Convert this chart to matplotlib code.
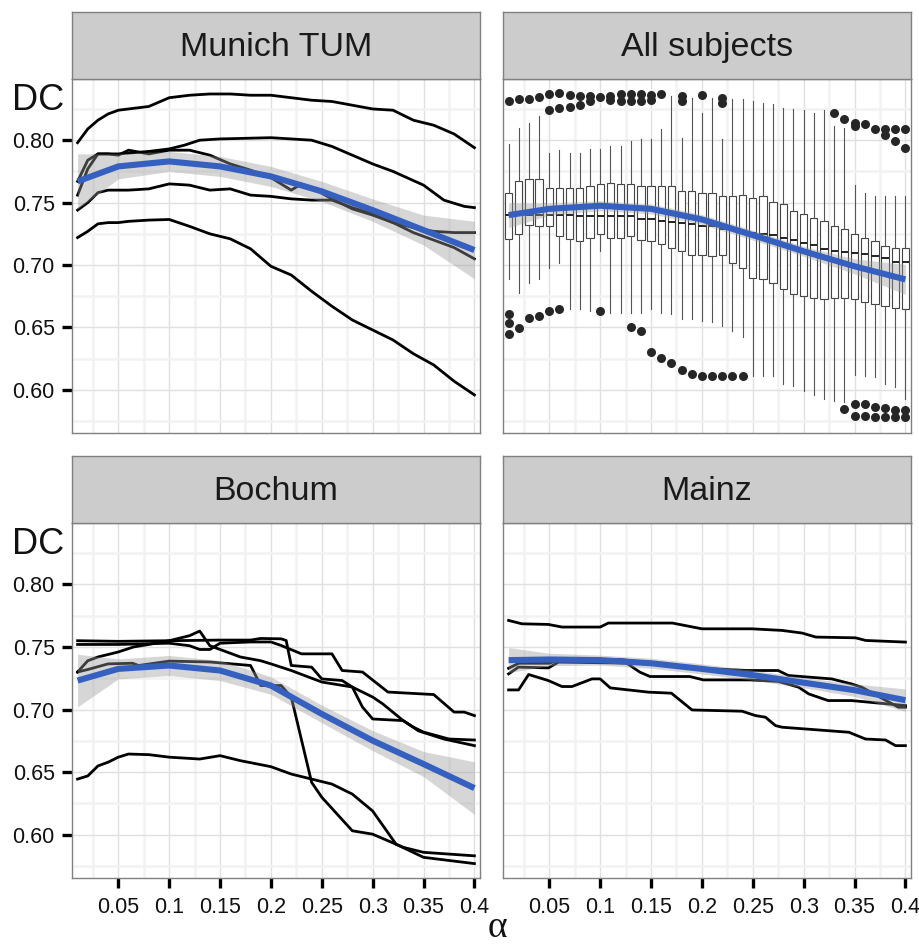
import matplotlib
matplotlib.use('Agg')
import matplotlib.pyplot as plt

plt.rcParams['font.family'] = ['Liberation Sans', 'DejaVu Sans']

# ---------------- data ----------------
x_ticks = [0.05, 0.10, 0.15, 0.20, 0.25, 0.30, 0.35, 0.40]
x_ticklabels = ['0.05', '0.1', '0.15', '0.2', '0.25', '0.3', '0.35', '0.4']
x_minor = [0.025, 0.075, 0.125, 0.175, 0.225, 0.275, 0.325, 0.375]
y_ticks = [0.60, 0.65, 0.70, 0.75, 0.80]
y_minor = [0.575, 0.625, 0.675, 0.725, 0.775, 0.825]

# Munich TUM, one line per subject
mun_x = [0.01, 0.02, 0.03, 0.04, 0.05, 0.06, 0.08, 0.10, 0.12, 0.14, 0.16, 0.18,
         0.20, 0.22, 0.24, 0.26, 0.28, 0.30, 0.32, 0.34, 0.36, 0.38, 0.40]
mun_a = [0.798, 0.809, 0.816, 0.821, 0.824, 0.825, 0.827, 0.834, 0.836, 0.837, 0.837, 0.836,
         0.836, 0.834, 0.832, 0.831, 0.828, 0.825, 0.824, 0.816, 0.812, 0.805, 0.794]
mun_c = [0.744, 0.750, 0.758, 0.760, 0.760, 0.760, 0.761, 0.765, 0.764, 0.760, 0.761, 0.756,
         0.755, 0.753, 0.752, 0.752, 0.746, 0.741, 0.734, 0.726, 0.720, 0.714, 0.705]
mun_d = [0.722, 0.727, 0.733, 0.734, 0.734, 0.735, 0.736, 0.7365, 0.731, 0.725, 0.721, 0.713,
         0.699, 0.692, 0.679, 0.667, 0.656, 0.648, 0.640, 0.629, 0.620, 0.607, 0.596]
mun_b_x = [0.01, 0.02, 0.03, 0.05, 0.08, 0.10, 0.115, 0.13, 0.15, 0.20, 0.24, 0.26, 0.28,
           0.30, 0.32, 0.35, 0.37, 0.39, 0.40]
mun_b = [0.767, 0.784, 0.789, 0.789, 0.791, 0.793, 0.796, 0.800, 0.801, 0.802, 0.800, 0.795, 0.788,
         0.781, 0.775, 0.764, 0.752, 0.747, 0.746]
mun_e_x = [0.01, 0.02, 0.03, 0.04, 0.05, 0.06, 0.08, 0.10, 0.12, 0.14, 0.16, 0.18, 0.20,
           0.22, 0.23, 0.24, 0.26, 0.28, 0.30, 0.32, 0.34, 0.36, 0.38, 0.40]
mun_e = [0.756, 0.777, 0.789, 0.789, 0.788, 0.792, 0.789, 0.792, 0.792, 0.788, 0.781, 0.776, 0.770,
         0.760, 0.765, 0.762, 0.753, 0.745, 0.740, 0.734, 0.730, 0.727, 0.726, 0.726]

# Bochum
boc_a_x = [0.01, 0.05, 0.10, 0.15, 0.18, 0.19, 0.21, 0.215, 0.22, 0.24, 0.25, 0.27, 0.28,
           0.29, 0.30, 0.33, 0.34, 0.35, 0.375, 0.40]
boc_a = [0.755, 0.7545, 0.755, 0.7555, 0.7555, 0.7568, 0.7565, 0.7552, 0.7352, 0.7339, 0.7245,
         0.7232, 0.718, 0.702, 0.6925, 0.6912, 0.686, 0.682, 0.6765, 0.6757]
boc_b_x = [0.01, 0.05, 0.10, 0.12, 0.13, 0.14, 0.15, 0.18, 0.20, 0.21, 0.23, 0.26, 0.27,
           0.29, 0.315, 0.36, 0.38, 0.39, 0.40]
boc_b = [0.752, 0.752, 0.753, 0.751, 0.748, 0.748, 0.753, 0.754, 0.754, 0.7512, 0.7445, 0.7445,
         0.7312, 0.730, 0.714, 0.712, 0.698, 0.698, 0.6952]
boc_c_x = [0.01, 0.02, 0.03, 0.05, 0.065, 0.08, 0.10, 0.12, 0.13, 0.14, 0.15, 0.17, 0.19,
           0.20, 0.22, 0.25, 0.28, 0.29, 0.30, 0.31, 0.33, 0.345, 0.37, 0.40]
boc_c = [0.730, 0.739, 0.742, 0.746, 0.750, 0.752, 0.755, 0.759, 0.7627, 0.751, 0.748, 0.742,
         0.739, 0.7365, 0.7312, 0.722, 0.718, 0.714, 0.710, 0.7045, 0.6912, 0.683, 0.6765, 0.6712]
boc_d_x = [0.01, 0.02, 0.04, 0.064, 0.07, 0.10, 0.14, 0.18, 0.19, 0.21, 0.22, 0.24, 0.25,
           0.28, 0.30, 0.33, 0.35, 0.40]
boc_d = [0.730, 0.732, 0.7365, 0.737, 0.7352, 0.7387, 0.738, 0.7352, 0.7192, 0.7192, 0.710,
         0.6419, 0.630, 0.6032, 0.6005, 0.590, 0.586, 0.5832]
boc_e_x = [0.01, 0.02, 0.03, 0.04, 0.05, 0.06, 0.08, 0.10, 0.13, 0.15, 0.17, 0.20, 0.22,
           0.24, 0.26, 0.28, 0.30, 0.323, 0.35, 0.40]
boc_e = [0.6445, 0.647, 0.655, 0.658, 0.662, 0.6645, 0.664, 0.662, 0.6605, 0.6632, 0.6592,
         0.6544, 0.6485, 0.6445, 0.6405, 0.6325, 0.619, 0.5925, 0.582, 0.577]

# Mainz
mai_a_x = [0.01, 0.023, 0.049, 0.0625, 0.10, 0.108, 0.171, 0.20, 0.249, 0.279, 0.2985,
           0.312, 0.351, 0.361, 0.40]
mai_a = [0.7712, 0.7685, 0.768, 0.7659, 0.7659, 0.7691, 0.7691, 0.7645, 0.7645, 0.7632,
         0.7611, 0.7579, 0.7573, 0.7552, 0.7539]
mai_b_x = [0.01, 0.0198, 0.0297, 0.049, 0.0625, 0.0723, 0.092, 0.10, 0.11, 0.1477, 0.17,
           0.1903, 0.2395, 0.2526, 0.2625, 0.2723, 0.2789, 0.3444, 0.3608, 0.3805, 0.3903, 0.40]
mai_b = [0.7157, 0.7157, 0.728, 0.7232, 0.7184, 0.7184, 0.7245, 0.7245, 0.7173, 0.7139, 0.7131,
         0.6997, 0.6987, 0.6952, 0.6939, 0.6872, 0.6859, 0.6819, 0.6765, 0.6757, 0.6712, 0.6712]
mai_c_x = [0.01, 0.0197, 0.0492, 0.059, 0.126, 0.139, 0.149, 0.188, 0.2015, 0.247, 0.275,
           0.295, 0.305, 0.324, 0.347, 0.40]
mai_c = [0.7285, 0.7339, 0.7333, 0.7379, 0.7371, 0.7299, 0.7264, 0.7264, 0.7237, 0.7237,
         0.7225, 0.7179, 0.7125, 0.7072, 0.7072, 0.7032]
mai_d_x = [0.01, 0.02, 0.05, 0.06, 0.12, 0.16, 0.20, 0.245, 0.275, 0.285, 0.3275, 0.347,
           0.357, 0.393, 0.40]
mai_d = [0.733, 0.737, 0.737, 0.740, 0.740, 0.736, 0.733, 0.7312, 0.7312, 0.7272, 0.7245,
         0.7205, 0.7179, 0.7019, 0.7019]

# loess fits (centre and half width of the band)
fit_x = [0.01, 0.05, 0.10, 0.15, 0.20, 0.25, 0.30, 0.35, 0.40]
fit_mun = [0.767, 0.779, 0.783, 0.779, 0.771, 0.759, 0.744, 0.728, 0.712]
fit_mun_se = [0.022, 0.010, 0.008, 0.008, 0.008, 0.008, 0.009, 0.012, 0.023]
fit_all = [0.740, 0.745, 0.7475, 0.745, 0.7365, 0.724, 0.711, 0.699, 0.6885]
fit_all_se = [0.010, 0.005, 0.004, 0.004, 0.004, 0.004, 0.004, 0.006, 0.012]
fit_boc = [0.7232, 0.7325, 0.7352, 0.7312, 0.7192, 0.6965, 0.6752, 0.6565, 0.6373]
fit_boc_se = [0.021, 0.008, 0.008, 0.008, 0.007, 0.007, 0.008, 0.010, 0.021]
fit_mai = [0.7395, 0.740, 0.7395, 0.737, 0.7325, 0.7275, 0.7215, 0.7155, 0.7075]
fit_mai_se = [0.010, 0.005, 0.004, 0.004, 0.004, 0.004, 0.004, 0.005, 0.009]

# All subjects: box plot per alpha
box_x = [0.01, 0.02, 0.03, 0.04, 0.05, 0.06, 0.07, 0.08, 0.09, 0.10,
         0.11, 0.12, 0.13, 0.14, 0.15, 0.16, 0.17, 0.18, 0.19, 0.20,
         0.21, 0.22, 0.23, 0.24, 0.25, 0.26, 0.27, 0.28, 0.29, 0.30,
         0.31, 0.32, 0.33, 0.34, 0.35, 0.36, 0.37, 0.38, 0.39, 0.40]
box_q3 = [0.758, 0.7675, 0.769, 0.769, 0.762, 0.7615, 0.7615, 0.762, 0.7635, 0.765,
          0.766, 0.765, 0.765, 0.7635, 0.763, 0.7635, 0.763, 0.759, 0.759, 0.758,
          0.758, 0.755, 0.755, 0.756, 0.754, 0.755, 0.7505, 0.749, 0.7435, 0.741,
          0.738, 0.7355, 0.7315, 0.729, 0.7245, 0.722, 0.7195, 0.7155, 0.714, 0.714]
box_q1 = [0.721, 0.725, 0.732, 0.7315, 0.731, 0.723, 0.721, 0.7195, 0.722, 0.725,
          0.722, 0.722, 0.723, 0.720, 0.7195, 0.717, 0.714, 0.711, 0.708, 0.708,
          0.7075, 0.708, 0.7015, 0.698, 0.690, 0.689, 0.6855, 0.681, 0.677, 0.6755,
          0.674, 0.673, 0.6735, 0.6735, 0.673, 0.6705, 0.669, 0.6675, 0.6655, 0.665]
box_med = [0.740, 0.740, 0.740, 0.740, 0.740, 0.740, 0.740, 0.7395, 0.7395, 0.7395,
           0.7395, 0.7395, 0.7395, 0.737, 0.7365, 0.7355, 0.7345, 0.734, 0.733, 0.7315,
           0.731, 0.729, 0.728, 0.7275, 0.726, 0.725, 0.724, 0.7215, 0.720, 0.718,
           0.716, 0.713, 0.711, 0.7105, 0.710, 0.709, 0.7075, 0.7055, 0.7025, 0.7025]
box_hi = [0.797, 0.810, 0.814, 0.819, 0.790, 0.792, 0.790, 0.790, 0.793, 0.793,
          0.7955, 0.7955, 0.7995, 0.801, 0.801, 0.809, 0.835, 0.802, 0.834, 0.822,
          0.834, 0.801, 0.833, 0.833, 0.8315, 0.830, 0.829, 0.826, 0.825, 0.824,
          0.822, 0.824, 0.8115, 0.810, 0.764, 0.758, 0.755, 0.755, 0.755, 0.755]
box_lo = [0.689, 0.678, 0.686, 0.689, 0.698, 0.702, 0.665, 0.665, 0.6635, 0.7115,
          0.662, 0.662, 0.662, 0.662, 0.665, 0.662, 0.661, 0.657, 0.657, 0.6555,
          0.654, 0.6515, 0.6475, 0.642, 0.6114, 0.6114, 0.6114, 0.6048, 0.6034, 0.5994,
          0.596, 0.5928, 0.5914, 0.5901, 0.612, 0.611, 0.610, 0.605, 0.602, 0.593]
box_out = [[0.8315, 0.6608, 0.6536, 0.6448], [0.8328, 0.6493], [0.8333, 0.6573],
           [0.8349, 0.6589], [0.8368, 0.8243, 0.6635], [0.8376, 0.8256, 0.6648],
           [0.8360, 0.8269], [0.8355, 0.8280], [0.8355, 0.8315], [0.8349, 0.6629],
           [0.8355, 0.8323], [0.8368, 0.8315], [0.8368, 0.8315, 0.6501],
           [0.8368, 0.8315, 0.6475], [0.8360, 0.8320, 0.6301], [0.8368, 0.6253],
           [0.6216], [0.8355, 0.8315, 0.6163], [0.6128], [0.8360, 0.6109], [0.6109],
           [0.8341, 0.8301, 0.6109], [0.6109], [0.6109], [], [], [], [], [], [], [], [],
           [0.8221], [0.8168, 0.5848], [0.8141, 0.8115, 0.5888, 0.5794],
           [0.8128, 0.5888, 0.5789], [0.8093, 0.5866, 0.5786],
           [0.8093, 0.8040, 0.5853, 0.5781], [0.8088, 0.7995, 0.5840, 0.5781],
           [0.8093, 0.7941, 0.5840, 0.5781]]

# ---------------- figure ----------------
W, H = 920, 947
fig = plt.figure(figsize=(W / 100, H / 100), dpi=100)


def add_px(x0, y0, x1, y1):
    return fig.add_axes([x0 / W, 1 - y1 / H, (x1 - x0) / W, (y1 - y0) / H])


def strip(x0, y0, x1, y1, title):
    s = add_px(x0, y0, x1, y1)
    s.set_facecolor('#cccccc')
    s.set_xticks([])
    s.set_yticks([])
    for sp in s.spines.values():
        sp.set_color('#808080')
        sp.set_linewidth(1.0)
    s.text(0.5, 0.47, title, ha='center', va='center', fontsize=24.5, color='#1a1a1a',
           transform=s.transAxes)


def style(ax, xlab, ylab):
    ax.set_xlim(0.0045, 0.4055)
    ax.set_ylim(0.5655, 0.849)
    ax.set_xticks(x_ticks)
    ax.set_xticks(x_minor, minor=True)
    ax.set_yticks(y_ticks)
    ax.set_yticks(y_minor, minor=True)
    ax.set_xticklabels(x_ticklabels)
    ax.set_yticklabels(['%.2f' % v for v in y_ticks])
    ax.grid(which='minor', color='#f2f2f2', lw=1.8)
    ax.grid(which='major', color='#e0e0e0', lw=1.0)
    ax.set_axisbelow(True)
    for sp in ax.spines.values():
        sp.set_color('#808080')
        sp.set_linewidth(1.0)
    ax.tick_params(which='minor', length=0)
    ax.tick_params(which='major', length=7.5, width=2.4, color='black', labelsize=15.5,
                   labelcolor='#111111')
    ax.tick_params(axis='x', pad=6)
    ax.tick_params(axis='y', pad=5)
    if not xlab:
        ax.tick_params(axis='x', which='major', length=0, labelbottom=False)
    if not ylab:
        ax.tick_params(axis='y', which='major', length=0, labelleft=False)


def fit(ax, c, se):
    lo = [m - s for m, s in zip(c, se)]
    hi = [m + s for m, s in zip(c, se)]
    ax.fill_between(fit_x, lo, hi, color='#999999', alpha=0.4, lw=0, zorder=3)
    ax.plot(fit_x, c, color='#3560c0', lw=4.4, zorder=4, solid_capstyle='butt')


def subj(ax, x, y):
    ax.plot(x, y, color='black', lw=2.0, zorder=2)


# Munich TUM
ax1 = add_px(72, 79, 480, 433)
style(ax1, False, True)
subj(ax1, mun_x, mun_a)
subj(ax1, mun_b_x, mun_b)
subj(ax1, mun_x, mun_c)
subj(ax1, mun_x, mun_d)
subj(ax1, mun_e_x, mun_e)
fit(ax1, fit_mun, fit_mun_se)
strip(72, 12, 480, 79, 'Munich TUM')

# All subjects
ax2 = add_px(503, 79, 911, 433)
style(ax2, False, False)
stats = []
for i in range(len(box_x)):
    stats.append(dict(med=box_med[i], q1=box_q1[i], q3=box_q3[i],
                      whislo=box_lo[i], whishi=box_hi[i], fliers=box_out[i]))
ax2.bxp(stats, positions=box_x, widths=0.0072, patch_artist=True, showcaps=False,
        manage_ticks=False,
        boxprops=dict(facecolor='white', edgecolor='#444444', linewidth=0.8),
        whiskerprops=dict(color='#555555', linewidth=0.8),
        medianprops=dict(color='#222222', linewidth=1.4),
        flierprops=dict(marker='o', markerfacecolor='#262626', markeredgecolor='none',
                        markersize=6.5))
ax2.set_xlim(0.0045, 0.4055)
fit(ax2, fit_all, fit_all_se)
strip(503, 12, 911, 79, 'All subjects')

# Bochum
ax3 = add_px(72, 523, 480, 878)
style(ax3, True, True)
subj(ax3, boc_a_x, boc_a)
subj(ax3, boc_b_x, boc_b)
subj(ax3, boc_c_x, boc_c)
subj(ax3, boc_d_x, boc_d)
subj(ax3, boc_e_x, boc_e)
fit(ax3, fit_boc, fit_boc_se)
strip(72, 456, 480, 523, 'Bochum')

# Mainz
ax4 = add_px(503, 523, 911, 878)
style(ax4, True, False)
subj(ax4, mai_a_x, mai_a)
subj(ax4, mai_b_x, mai_b)
subj(ax4, mai_c_x, mai_c)
subj(ax4, mai_d_x, mai_d)
fit(ax4, fit_mai, fit_mai_se)
strip(503, 456, 911, 523, 'Mainz')

# axis titles
fig.text(12 / W, 1 - 101 / H, 'DC', fontsize=26, ha='left', va='center', color='#111111')
fig.text(12 / W, 1 - 544 / H, 'DC', fontsize=26, ha='left', va='center', color='#111111')
fig.text(497 / W, 1 - 945 / H, 'α', fontsize=27, ha='center', va='bottom',
         family=['Liberation Serif', 'DejaVu Serif'], color='#111111')

fig.savefig('out.png', dpi=100)
